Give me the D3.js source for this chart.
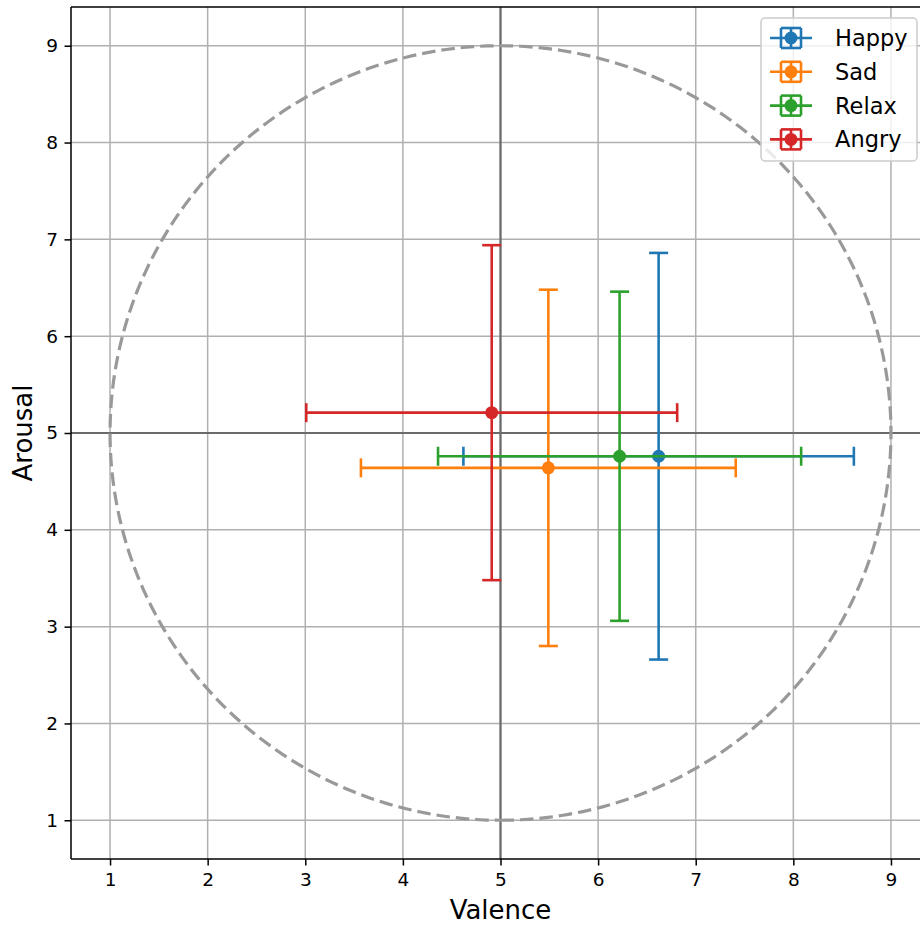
<!DOCTYPE html>
<html>
<head>
<meta charset="utf-8">
<script src="https://cdn.jsdelivr.net/npm/d3@7"></script>
<style>
  body { margin: 0; background: #fff; }
  svg { font-family: "DejaVu Sans", sans-serif; display: block; }
</style>
</head>
<body>
<div id="chart"></div>
<script>
// data
var emotions = ['Happy', 'Sad', 'Relax', 'Angry'];
var valence = [6.62, 5.49, 6.22, 4.91];
var arousal = [4.76, 4.64, 4.76, 5.21];
var valenceErr = [2.00, 1.92, 1.86, 1.90];
var arousalErr = [2.10, 1.84, 1.70, 1.73];
var colors = ['#1f77b4', '#ff7f0e', '#2ca02c', '#d62728'];
var ticks = [1, 2, 3, 4, 5, 6, 7, 8, 9];

var W = 920, H = 926;
var m = {left: 71, top: 7, right: -10, bottom: 67};

var svg = d3.select('#chart').append('svg')
    .attr('width', W)
    .attr('height', H);

var x = d3.scaleLinear().domain([0.6, 9.4]).range([m.left, W - m.right]);
var y = d3.scaleLinear().domain([0.6, 9.4]).range([H - m.bottom, m.top]);

svg.append('clipPath').attr('id', 'clip')
    .append('rect')
    .attr('x', m.left).attr('y', m.top)
    .attr('width', W - m.right - m.left).attr('height', H - m.bottom - m.top);

var g = svg.append('g').attr('clip-path', 'url(#clip)');

// grid
g.selectAll('.gx').data(ticks).enter().append('line')
    .attr('x1', d => x(d)).attr('x2', d => x(d))
    .attr('y1', m.top).attr('y2', H - m.bottom)
    .attr('stroke', '#b0b0b0').attr('stroke-width', 1.5);
g.selectAll('.gy').data(ticks).enter().append('line')
    .attr('y1', d => y(d)).attr('y2', d => y(d))
    .attr('x1', m.left).attr('x2', W)
    .attr('stroke', '#b0b0b0').attr('stroke-width', 1.5);

// center cross
g.append('line')
    .attr('x1', x(5)).attr('x2', x(5)).attr('y1', m.top).attr('y2', H - m.bottom)
    .attr('stroke', '#6a6a6a').attr('stroke-width', 2.2);
g.append('line')
    .attr('y1', y(5)).attr('y2', y(5)).attr('x1', m.left).attr('x2', W)
    .attr('stroke', '#6a6a6a').attr('stroke-width', 2.2);

// dashed circle radius 4
var circ = d3.range(0, 361).map(a => [5 + 4 * Math.cos((a - 90) * Math.PI / 180), 5 + 4 * Math.sin((a - 90) * Math.PI / 180)]);
g.append('path')
    .attr('d', d3.line().x(d => x(d[0])).y(d => y(d[1]))(circ))
    .attr('fill', 'none')
    .attr('stroke', '#999999')
    .attr('stroke-width', 3.2)
    .attr('stroke-dasharray', '13.5,6');

// error bars
var cap = 9.5;
emotions.forEach(function(name, i) {
    var c = colors[i];
    var e = g.append('g').attr('stroke', c).attr('stroke-width', 2.6);
    var cx = x(valence[i]), cy = y(arousal[i]);
    var x0 = x(valence[i] - valenceErr[i]), x1 = x(valence[i] + valenceErr[i]);
    var y0 = y(arousal[i] - arousalErr[i]), y1 = y(arousal[i] + arousalErr[i]);
    e.append('line').attr('x1', x0).attr('x2', x1).attr('y1', cy).attr('y2', cy);
    e.append('line').attr('x1', cx).attr('x2', cx).attr('y1', y0).attr('y2', y1);
    [x0, x1].forEach(v => e.append('line').attr('x1', v).attr('x2', v).attr('y1', cy - cap).attr('y2', cy + cap));
    [y0, y1].forEach(v => e.append('line').attr('y1', v).attr('y2', v).attr('x1', cx - cap).attr('x2', cx + cap));
    g.append('circle').attr('cx', cx).attr('cy', cy).attr('r', 6.5).attr('fill', c);
});

// axes
var xAx = d3.axisBottom(x).tickValues(ticks).tickSize(6.5).tickPadding(7);
var yAx = d3.axisLeft(y).tickValues(ticks).tickSize(6.5).tickPadding(6.5);
var xg = svg.append('g').attr('transform', 'translate(0,' + (H - m.bottom) + ')').call(xAx);
var yg = svg.append('g').attr('transform', 'translate(' + m.left + ',0)').call(yAx);
[xg, yg].forEach(function(a) {
    a.select('.domain').remove();
    a.attr('font-size', null).attr('font-family', null);
    a.selectAll('line').attr('stroke', '#000').attr('stroke-width', 1.5);
    a.selectAll('text').attr('fill', '#000')
        .style('font-size', '18.5px').style('font-family', '"DejaVu Sans", sans-serif');
});
svg.append('line').attr('x1', m.left).attr('x2', W).attr('y1', H - m.bottom).attr('y2', H - m.bottom).attr('stroke', '#000').attr('stroke-width', 1.5);
svg.append('line').attr('x1', m.left).attr('x2', m.left).attr('y1', m.top).attr('y2', H - m.bottom).attr('stroke', '#000').attr('stroke-width', 1.5);
svg.append('line').attr('x1', m.left).attr('x2', W).attr('y1', m.top).attr('y2', m.top).attr('stroke', '#000').attr('stroke-width', 1.5);

// labels
svg.append('text')
    .attr('x', (m.left + x(9.4)) / 2).attr('y', 919)
    .attr('text-anchor', 'middle').attr('font-size', '26px')
    .text('Valence');
svg.append('text')
    .attr('transform', 'translate(32,' + ((m.top + H - m.bottom) / 2) + ') rotate(-90)')
    .attr('text-anchor', 'middle').attr('font-size', '26px')
    .text('Arousal');

// legend
var lg = svg.append('g').attr('transform', 'translate(761,18)');
lg.append('rect').attr('width', 156).attr('height', 143).attr('rx', 4)
    .attr('fill', 'rgba(255,255,255,0.8)').attr('stroke', '#cccccc').attr('stroke-width', 1.5);
emotions.forEach(function(name, i) {
    var ly = 20 + i * 33.8;
    var it = lg.append('g').attr('transform', 'translate(30,' + ly + ')').attr('stroke', colors[i]).attr('stroke-width', 2.6);
    it.append('line').attr('x1', -21).attr('x2', 21).attr('y1', 0).attr('y2', 0);
    it.append('line').attr('x1', 0).attr('x2', 0).attr('y1', -10).attr('y2', 10);
    it.append('line').attr('x1', -10).attr('x2', 10).attr('y1', -10).attr('y2', -10);
    it.append('line').attr('x1', -10).attr('x2', 10).attr('y1', 10).attr('y2', 10);
    it.append('line').attr('x1', -10).attr('x2', -10).attr('y1', -10).attr('y2', 10);
    it.append('line').attr('x1', 10).attr('x2', 10).attr('y1', -10).attr('y2', 10);
    it.append('circle').attr('r', 6.5).attr('fill', colors[i]).attr('stroke', 'none');
    lg.append('text').attr('x', 74).attr('y', ly + 8).attr('font-size', '22.5px').attr('fill', '#000').text(name);
});
</script>
</body>
</html>
